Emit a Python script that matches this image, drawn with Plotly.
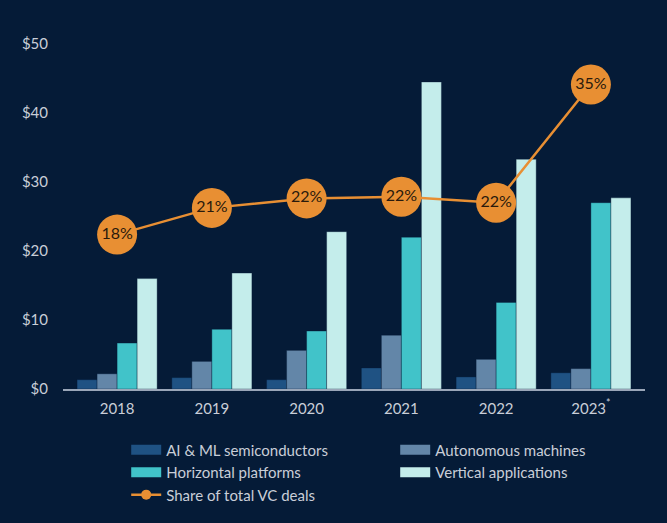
import plotly.graph_objects as go

years = ["2018", "2019", "2020", "2021", "2022", "2023<sup>*</sup>"]
ai_semis = [1.35, 1.65, 1.35, 3.05, 1.75, 2.35]
autonomous = [2.2, 4.0, 5.6, 7.8, 4.3, 2.95]
horizontal = [6.65, 8.65, 8.4, 22.0, 12.55, 27.0]
vertical = [16.0, 16.8, 22.8, 44.5, 33.3, 27.7]
share = [17.9, 21.0, 22.1, 22.3, 21.6, 35.3]
share_labels = ["18%", "21%", "22%", "22%", "22%", "35%"]
y_ticks = [0, 10, 20, 30, 40, 50]
y_tick_text = ["$0", "$10", "$20", "$30", "$40", "$50"]

# (name, values, colour, legend column)
series = [
    ("AI & ML semiconductors", ai_semis, "#1f5283", "legend"),
    ("Autonomous machines", autonomous, "#6386a8", "legend2"),
    ("Horizontal platforms", horizontal, "#41c3c9", "legend"),
    ("Vertical applications", vertical, "#c4edeb", "legend2"),
]

BG = "#051b37"
ORANGE = "#e88f33"
TXT = "#c9ced8"
FONT = "Lato"

fig = go.Figure()
for name, vals, col, lg in series:
    fig.add_trace(go.Bar(x=years, y=vals, name=name,
                         marker=dict(color=col, line=dict(color="rgba(5,27,55,0.35)", width=1)),
                         showlegend=False, hoverinfo="y"))

fig.add_trace(go.Scatter(x=years, y=share, yaxis="y2", mode="lines+markers+text",
                         text=share_labels, textposition="middle center",
                         textfont=dict(family=FONT, size=16, color="#2a1a0c"),
                         line=dict(color=ORANGE, width=2.5),
                         marker=dict(color=ORANGE, size=40),
                         showlegend=False, name="Share of total VC deals"))

# legend entries (wide swatches)
for name, vals, col, lg in series:
    fig.add_trace(go.Scatter(x=[None], y=[None], mode="lines", name=name, legend=lg,
                             line=dict(color=col, width=10), showlegend=True))
fig.add_trace(go.Scatter(x=[None], y=[None], mode="lines+markers", name="Share of total VC deals",
                         legend="legend",
                         line=dict(color=ORANGE, width=2.5), marker=dict(color=ORANGE, size=10),
                         showlegend=True))

legend_common = dict(orientation="v", xanchor="left", yanchor="top", y=-0.1287,
                     bgcolor="rgba(0,0,0,0)", font=dict(size=15, color=TXT),
                     traceorder="normal", tracegroupgap=0)

fig.update_layout(
    width=667, height=523,
    paper_bgcolor=BG, plot_bgcolor=BG,
    margin=dict(l=63, r=22, t=44, b=134, autoexpand=False),
    barmode="group", bargap=0.155, bargroupgap=0,
    font=dict(family=FONT, size=15, color=TXT),
    xaxis=dict(showgrid=False, showline=True, linecolor="#9aa6b8", linewidth=1.5,
               ticks="", tickfont=dict(size=15, color=TXT), zeroline=False,
               ticklabelstandoff=5),
    yaxis=dict(range=[0, 50], showgrid=False, zeroline=False, showline=False,
               tickmode="array", tickvals=y_ticks, ticktext=y_tick_text, ticks="",
               tickfont=dict(size=15, color=TXT), ticklabelstandoff=14),
    yaxis2=dict(range=[0, 40], overlaying="y", side="right", visible=False),
    legend=dict(x=0.1086, **legend_common),
    legend2=dict(x=0.5708, **legend_common),
    showlegend=True,
)

fig.write_html("out.html")
